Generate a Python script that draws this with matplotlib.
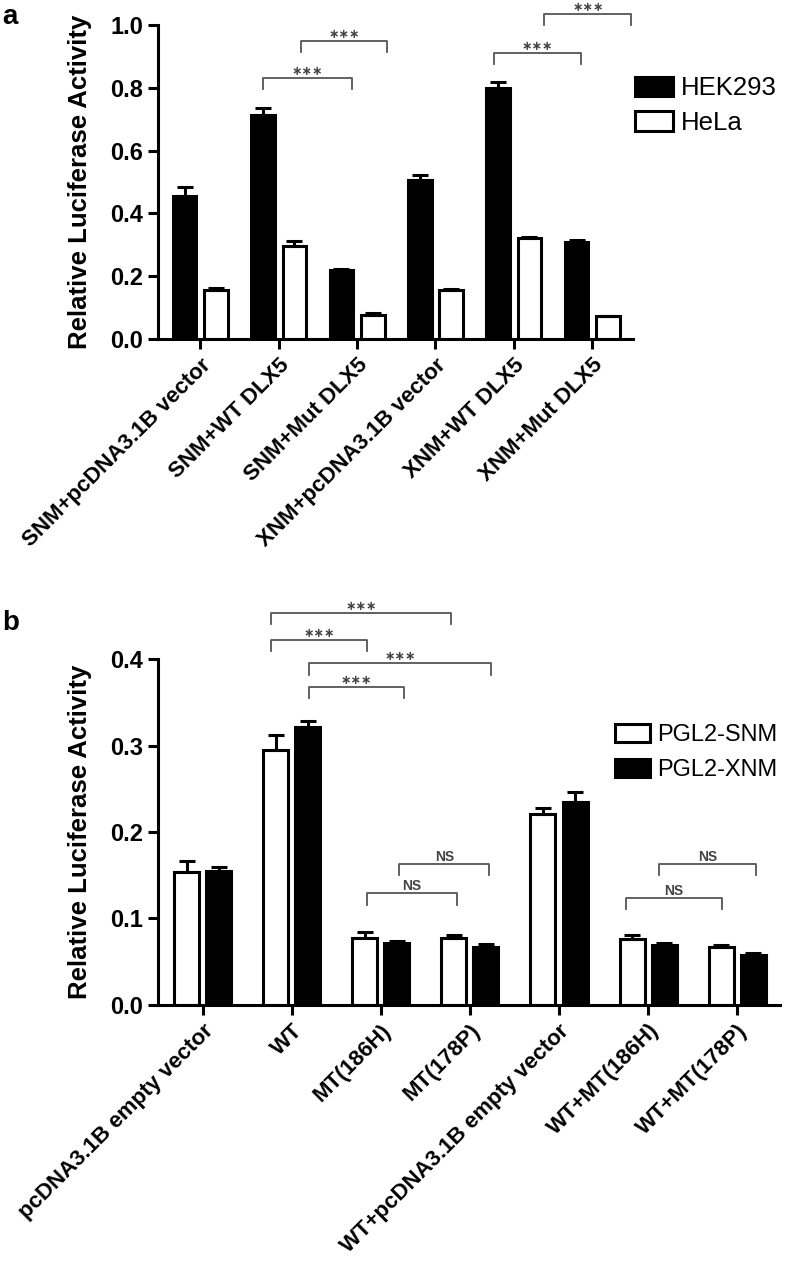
import numpy as np
import matplotlib.pyplot as plt

plt.rcParams['font.family'] = ['Liberation Sans', 'DejaVu Sans']

# panel a data
cats_a = ['SNM+pcDNA3.1B vector', 'SNM+WT DLX5', 'SNM+Mut DLX5',
          'XNM+pcDNA3.1B vector', 'XNM+WT DLX5', 'XNM+Mut DLX5']
hek293 = [0.455, 0.715, 0.220, 0.505, 0.800, 0.308]
hek293_err = [0.030, 0.020, 0.004, 0.018, 0.018, 0.008]
hela = [0.155, 0.295, 0.078, 0.155, 0.322, 0.072]
hela_err = [0.008, 0.016, 0.004, 0.003, 0.004, 0.002]
# brackets: x1, x2, y, label
sig_a = [(0.80, 1.93, 0.83, '***'), (1.29, 2.38, 0.95, '***'),
         (3.75, 4.86, 0.91, '***'), (4.39, 5.50, 1.035, '***')]

# panel b data
cats_b = ['pcDNA3.1B empty vector', 'WT', 'MT(186H)', 'MT(178P)',
          'WT+pcDNA3.1B empty vector', 'WT+MT(186H)', 'WT+MT(178P)']
snm = [0.154, 0.295, 0.078, 0.077, 0.221, 0.076, 0.067]
snm_err = [0.013, 0.017, 0.006, 0.004, 0.007, 0.005, 0.002]
xnm = [0.155, 0.321, 0.072, 0.067, 0.235, 0.069, 0.058]
xnm_err = [0.004, 0.007, 0.002, 0.003, 0.011, 0.003, 0.002]
sig_b = [(0.77, 2.79, 0.453, '***'), (0.77, 1.84, 0.422, '***'),
         (1.20, 3.24, 0.395, '***'), (1.20, 2.26, 0.368, '***'),
         (1.84, 2.85, 0.129, 'NS'), (2.21, 3.22, 0.163, 'NS'),
         (4.75, 5.83, 0.124, 'NS'), (5.12, 6.21, 0.163, 'NS')]

fig = plt.figure(figsize=(7.85, 12.76), dpi=100)
ax1 = fig.add_axes([0.2013, 0.7343, 0.6050, 0.2461])
ax2 = fig.add_axes([0.2013, 0.2124, 0.7923, 0.2711])


def style_axis(ax):
    for s in ['top', 'right']:
        ax.spines[s].set_visible(False)
    for s in ['left', 'bottom']:
        ax.spines[s].set_linewidth(2.2)
    ax.tick_params(width=2.2, length=7, labelsize=17)
    ax.tick_params(axis='x', labelsize=16, pad=4)
    for lab in ax.get_yticklabels():
        lab.set_fontweight('bold')
    ax.set_ylabel('Relative Luciferase Activity', fontsize=18.5,
                  fontweight='bold', labelpad=13)


def brackets(ax, sig, drop, dy):
    for x1, x2, y, t in sig:
        ax.plot([x1, x1, x2, x2], [y - drop, y, y, y - drop], color='#555555',
                lw=1.3, clip_on=False)
        if t == '***':
            ax.text((x1 + x2) / 2, y + dy, '\u2217\u2217\u2217', ha='center',
                    va='bottom', fontsize=9, color='#444444',
                    fontweight='bold', family='DejaVu Sans', clip_on=False)
        else:
            ax.text((x1 + x2) / 2, y + dy, t, ha='center', va='bottom',
                    fontsize=10, color='#444444', fontweight='bold',
                    clip_on=False)


kw = dict(edgecolor='black', linewidth=2.2,
          error_kw=dict(ecolor='black', elinewidth=2.2, capsize=6, capthick=2.2))

# panel a
x = np.arange(len(cats_a))
w = 0.30
ax1.bar(x - 0.2, hek293, w, color='black', label='HEK293',
        yerr=[np.zeros(len(x)), hek293_err], **kw)
ax1.bar(x + 0.2, hela, w, color='white', label='HeLa',
        yerr=[np.zeros(len(x)), hela_err], **kw)
ax1.set_xlim(-0.54, 5.52)
ax1.set_ylim(0, 1.0)
ax1.set_yticks([0.0, 0.2, 0.4, 0.6, 0.8, 1.0])
ax1.set_yticklabels(['0.0', '0.2', '0.4', '0.6', '0.8', '1.0'])
ax1.set_xticks(x)
ax1.set_xticklabels(cats_a, rotation=45, ha='right', rotation_mode='anchor',
                    fontweight='bold')
style_axis(ax1)
brackets(ax1, sig_a, 0.035, 0.0)
ax1.legend(loc='upper left', bbox_to_anchor=(0.955, 0.91), frameon=False,
           fontsize=18.5, handlelength=1.5, handleheight=0.8, handletextpad=0.3,
           labelspacing=0.4)
fig.text(0.003, 0.997, 'a', fontsize=20, fontweight='bold', va='top')

# panel b
x = np.arange(len(cats_b))
w = 0.28
ax2.bar(x - 0.18, snm, w, color='white', label='PGL2-SNM',
        yerr=[np.zeros(len(x)), snm_err], **kw)
ax2.bar(x + 0.18, xnm, w, color='black', label='PGL2-XNM',
        yerr=[np.zeros(len(x)), xnm_err], **kw)
ax2.set_xlim(-0.5, 6.48)
ax2.set_ylim(0, 0.4)
ax2.set_yticks([0.0, 0.1, 0.2, 0.3, 0.4])
ax2.set_yticklabels(['0.0', '0.1', '0.2', '0.3', '0.4'])
ax2.set_xticks(x)
ax2.set_xticklabels(cats_b, rotation=45, ha='right', rotation_mode='anchor',
                    fontweight='bold')
style_axis(ax2)
brackets(ax2, sig_b, 0.013, 0.0)
ax2.legend(loc='upper right', bbox_to_anchor=(1.03, 0.875), frameon=False,
           fontsize=17, handlelength=1.5, handleheight=0.8, handletextpad=0.3,
           labelspacing=0.55)
fig.text(0.003, 0.522, 'b', fontsize=20, fontweight='bold', va='top')

fig.savefig('out.png', dpi=100)
